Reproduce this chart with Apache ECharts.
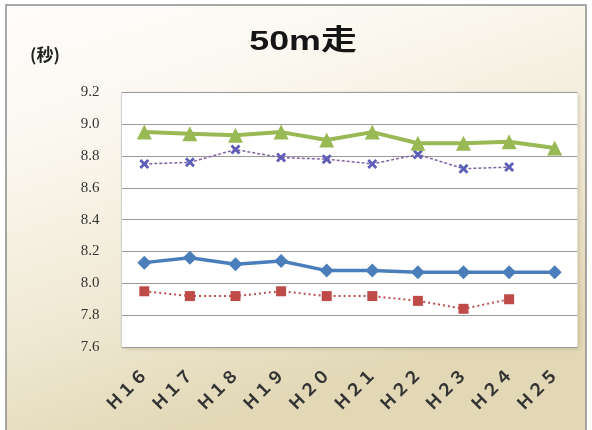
<!DOCTYPE html>
<html>
<head>
<meta charset="utf-8">
<script src="https://cdn.jsdelivr.net/npm/echarts@6/dist/echarts.min.js"></script>
<style>
  html, body { margin: 0; padding: 0; background: #fff; }
  #chart { width: 592px; height: 430px; }
</style>
</head>
<body>
<div id="chart"></div>
<script>
// Fiscal years (Heisei era)
const categories = ['Ｈ１６', 'Ｈ１７', 'Ｈ１８', 'Ｈ１９', 'Ｈ２０', 'Ｈ２１', 'Ｈ２２', 'Ｈ２３', 'Ｈ２４', 'Ｈ２５'];

// 50m run times (seconds)
const blueSeries   = [8.13, 8.16, 8.12, 8.14, 8.08, 8.08, 8.07, 8.07, 8.07, 8.07];
const redSeries    = [7.95, 7.92, 7.92, 7.95, 7.92, 7.92, 7.89, 7.84, 7.90, null];
const greenSeries  = [8.95, 8.94, 8.93, 8.95, 8.90, 8.95, 8.88, 8.88, 8.89, 8.85];
const purpleSeries = [8.75, 8.76, 8.84, 8.79, 8.78, 8.75, 8.81, 8.72, 8.73, null];

const yTicks = { min: 7.6, max: 9.2, interval: 0.2 };

const crossSymbol = 'path://M2,0L5,3L8,0L10,2L7,5L10,8L8,10L5,7L2,10L0,8L3,5L0,2Z';

const chart = echarts.init(document.getElementById('chart'), null, { renderer: 'canvas' });

chart.setOption({
  backgroundColor: '#ffffff',
  animation: false,
  graphic: [
    {
      type: 'rect',
      z: -10,
      silent: true,
      shape: { x: 6, y: 5, width: 580, height: 440 },
      style: {
        fill: new echarts.graphic.LinearGradient(0, 0, 0.25, 1, [
          { offset: 0, color: '#fefdfb' },
          { offset: 0.3, color: '#fbf8f0' },
          { offset: 0.7, color: '#efe8d2' },
          { offset: 1, color: '#e2d8b6' }
        ]),
        stroke: '#8c8c8c',
        lineWidth: 1.5
      }
    },
    {
      type: 'text',
      x: 30,
      y: 55,
      style: {
        text: '(秒)',
        font: 'bold 17px "Noto Sans CJK JP"',
        fill: '#222',
        verticalAlign: 'middle'
      }
    },
    {
      type: 'text',
      x: 303,
      y: 42,
      scaleX: 1.28,
      style: {
        text: '50m走',
        font: 'bold 28px "Liberation Sans", "Noto Sans CJK JP"',
        fill: '#151515',
        align: 'center',
        verticalAlign: 'middle'
      }
    }
  ],
  grid: {
    left: 121.5,
    right: 14.5,
    top: 92.3,
    bottom: 83,
    show: true,
    backgroundColor: '#ffffff',
    borderWidth: 0,
    shadowColor: 'rgba(120,100,60,0.25)',
    shadowBlur: 4,
    shadowOffsetX: 1,
    shadowOffsetY: 2
  },
  xAxis: {
    type: 'category',
    data: categories,
    boundaryGap: true,
    axisLine: { show: false },
    axisTick: { show: false },
    axisLabel: {
      rotate: 45,
      margin: 24,
      fontFamily: '"Noto Sans CJK JP"',
      fontSize: 17,
      fontWeight: 'bold',
      color: '#333'
    }
  },
  yAxis: {
    type: 'value',
    min: yTicks.min,
    max: yTicks.max,
    interval: yTicks.interval,
    axisLine: { show: true, lineStyle: { color: '#cfcfcf', width: 1 } },
    axisTick: { show: false },
    splitLine: { lineStyle: { color: '#9a9a9a', width: 1 } },
    axisLabel: {
      margin: 22,
      fontFamily: '"Liberation Serif"',
      fontSize: 15,
      color: '#333',
      formatter: v => v.toFixed(1)
    }
  },
  series: [
    {
      type: 'line',
      data: blueSeries,
      symbol: 'diamond',
      symbolSize: 14,
      lineStyle: { color: '#4a7ebb', width: 3.5 },
      itemStyle: { color: '#4a7ebb' },
      z: 3
    },
    {
      type: 'line',
      data: redSeries,
      symbol: 'rect',
      symbolSize: 10,
      connectNulls: false,
      lineStyle: { color: '#c0504d', width: 2, type: [2, 3] },
      itemStyle: { color: '#be4b48' },
      z: 3
    },
    {
      type: 'line',
      data: greenSeries,
      symbol: 'triangle',
      symbolSize: 15,
      lineStyle: { color: '#98b954', width: 4 },
      itemStyle: { color: '#98b954' },
      z: 4
    },
    {
      type: 'line',
      data: purpleSeries,
      symbol: crossSymbol,
      symbolSize: 10,
      lineStyle: { color: '#8064a2', width: 1.5, type: [3, 2] },
      itemStyle: { color: '#5e5eb8' },
      z: 3
    }
  ]
});
</script>
</body>
</html>
